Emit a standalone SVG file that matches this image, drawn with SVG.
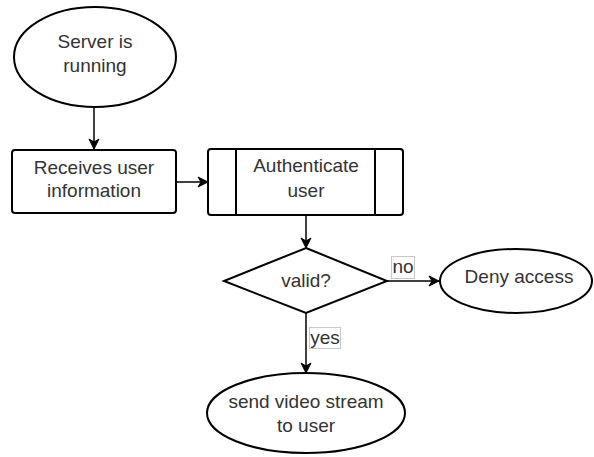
<svg xmlns="http://www.w3.org/2000/svg" width="594" height="457" viewBox="0 0 594 457">
  <defs>
    <style>
      .shape { fill: #ffffff; stroke: #000000; stroke-width: 2; }
      .edge { fill: none; stroke: #000000; stroke-width: 1.5; }
      .lbl { font-family: "Liberation Sans", Arial, sans-serif; font-size: 19px; fill: #333333; text-anchor: middle; }
      .tag { fill: #ffffff; stroke: #c8c8c8; stroke-width: 1; }
    </style>
    <marker id="arrow" viewBox="0 0 12 12" refX="11" refY="6" markerWidth="12" markerHeight="12" markerUnits="userSpaceOnUse" orient="auto">
      <path d="M1,1 L11,6 L1,11 L4,6 Z" fill="#000000" stroke="#000000" stroke-width="1"/>
    </marker>
  </defs>
  <rect width="594" height="457" fill="#ffffff"/>

  <g id="connectors">
    <path class="edge" d="M94,107 L94,149" marker-end="url(#arrow)"/>
    <path class="edge" d="M176,182 L208,182" marker-end="url(#arrow)"/>
    <path class="edge" d="M306,216 L306,248" marker-end="url(#arrow)"/>
    <path class="edge" d="M387,281 L439,281" marker-end="url(#arrow)"/>
    <path class="edge" d="M306,313 L306,373" marker-end="url(#arrow)"/>
    <g id="label-no">
      <rect class="tag" x="391.5" y="256.5" width="23" height="22"/>
      <text class="lbl" x="403" y="273">no</text>
    </g>
    <g id="label-yes">
      <rect class="tag" x="309.5" y="327.5" width="31" height="21"/>
      <text class="lbl" x="325" y="344">yes</text>
    </g>
  </g>

  <g id="server-running">
    <ellipse class="shape" cx="95" cy="57" rx="81" ry="50"/>
    <text class="lbl" x="95" y="48">Server is</text>
    <text class="lbl" x="95" y="72">running</text>
  </g>

  <g id="receives-info">
    <rect class="shape" x="12" y="150" width="164" height="63" rx="3"/>
    <text class="lbl" x="94" y="174">Receives user</text>
    <text class="lbl" x="94" y="197">information</text>
  </g>

  <g id="authenticate">
    <rect class="shape" x="208" y="149" width="195" height="66" rx="3"/>
    <path class="shape" d="M236,149 L236,215 M375,149 L375,215"/>
    <text class="lbl" x="306" y="172">Authenticate</text>
    <text class="lbl" x="306" y="197">user</text>
  </g>

  <g id="valid">
    <path class="shape" d="M306,248 L387,281 L306,313 L224,281 Z"/>
    <text class="lbl" x="306" y="287">valid?</text>
  </g>

  <g id="deny-access">
    <ellipse class="shape" cx="516" cy="281" rx="76" ry="32"/>
    <text class="lbl" x="519" y="283">Deny access</text>
  </g>

  <g id="send-stream">
    <ellipse class="shape" cx="306" cy="413" rx="99" ry="40"/>
    <text class="lbl" x="306" y="408">send video stream</text>
    <text class="lbl" x="306" y="432">to user</text>
  </g>
</svg>
